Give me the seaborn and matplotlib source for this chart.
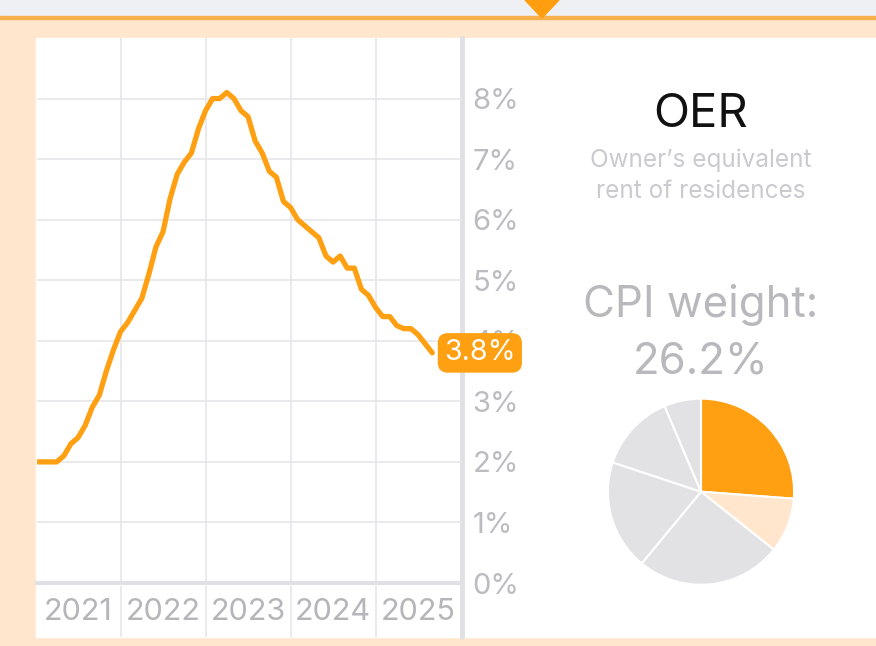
import numpy as np
import pandas as pd
import matplotlib
matplotlib.use("Agg")
import matplotlib.pyplot as plt
from matplotlib.patches import Rectangle, Polygon
from matplotlib.lines import Line2D
import seaborn as sns

# OER, 12-month % change, monthly from Jan 2021 to Sep 2025
oer_2021 = [2.0, 2.0, 2.0, 2.0, 2.1, 2.3, 2.4, 2.6, 2.9, 3.1, 3.5, 3.85]
oer_2022 = [4.15, 4.3, 4.5, 4.7, 5.1, 5.55, 5.8, 6.35, 6.75, 6.95, 7.1, 7.5]
oer_2023 = [7.8, 8.0, 8.0, 8.1, 8.0, 7.8, 7.7, 7.3, 7.1, 6.8, 6.7, 6.3]
oer_2024 = [6.2, 6.0, 5.9, 5.8, 5.7, 5.4, 5.3, 5.4, 5.2, 5.2, 4.85, 4.75]
oer_2025 = [4.55, 4.4, 4.4, 4.25, 4.2, 4.2, 4.1, 3.95, 3.8]
years = ["2021", "2022", "2023", "2024", "2025"]
ytick_vals = [0, 1, 2, 3, 4, 5, 6, 7, 8]
ytick_labels = [f"{v}%" for v in ytick_vals]

# CPI weights (OER first, then the other slices clockwise)
pie_shares = [26.2, 9.5, 25.3, 19.1, 13.5, 6.4]
latest_label = "3.8%"
title = "OER"
subtitle = ["Owner\u2019s equivalent", "rent of residences"]
weight_text = ["CPI weight:", "26.2%"]

oer = oer_2021 + oer_2022 + oer_2023 + oer_2024 + oer_2025
df = pd.DataFrame({"month": np.arange(len(oer)), "oer": oer})

ORANGE = "#FFA013"
PEACH = "#FFE6CC"
GRID = "#E6E6E9"
AXIS_GRAY = "#E1E1E5"
TICK_GRAY = "#BBBBC0"

sns.set_theme(style="white")
plt.rcParams["font.family"] = ["Inter", "DejaVu Sans"]

W, H = 876, 646
fig = plt.figure(figsize=(W / 100, H / 100), dpi=100, facecolor=PEACH)


def fx(px):
    return px / W


def fy(py):
    return 1 - py / H


# background pieces (behind the axes)
fig.patches.append(Rectangle((0, fy(16)), 1, 16 / H, transform=fig.transFigure,
                             color="#EFF0F4", zorder=-2))
fig.patches.append(Rectangle((0, fy(18.5)), 1, 2.5 / H, transform=fig.transFigure,
                             color="#F6B14D", zorder=-2))
fig.patches.append(Polygon([(fx(525), fy(0)), (fx(559), fy(0)), (fx(542), fy(18))],
                           closed=True, transform=fig.transFigure, color="#FF9F10",
                           zorder=-1))
fig.patches.append(Rectangle((fx(36), fy(637)), 1, (637 - 38) / H,
                             transform=fig.transFigure, color="white", zorder=-2))
# vertical separator, also behind the axes so the value tag covers it
fig.lines.append(Line2D([fx(462), fx(462)], [fy(38), fy(637)],
                        transform=fig.transFigure, color=AXIS_GRAY, lw=3.6,
                        zorder=-1))

# main line chart
ax = fig.add_axes([fx(37), fy(583), (462 - 37) / W, (583 - 38) / H])
ax.set_facecolor("none")
sns.lineplot(data=df, x="month", y="oer", color=ORANGE, lw=3.8, ax=ax,
             solid_capstyle="round", solid_joinstyle="round")
ax.set_xlim(0.21, 60.2)
ax.set_ylim(0, 9)
ax.set_xlabel("")
ax.set_ylabel("")
ax.set_xticks([12, 24, 36, 48])
ax.set_xticklabels([])
ax.set_yticks(ytick_vals)
ax.yaxis.tick_right()
ax.set_yticklabels(ytick_labels, fontsize=21, color=TICK_GRAY)
ax.tick_params(axis="both", length=0)
ax.tick_params(axis="y", pad=7.5)
ax.grid(True, color=GRID, lw=1.2)
for s in ["top", "left", "right"]:
    ax.spines[s].set_visible(False)
ax.spines["bottom"].set_color(AXIS_GRAY)
ax.spines["bottom"].set_linewidth(3.0)

ax.annotate(latest_label, xy=(df["month"].iloc[-1], df["oer"].iloc[-1]),
            xytext=(8.5, 0), textcoords="offset points", ha="left", va="center",
            fontsize=20.5, color="white", zorder=10, annotation_clip=False,
            bbox=dict(boxstyle="round,pad=0.22,rounding_size=0.35",
                      fc=ORANGE, ec="none"))

# year strip below the chart
ax2 = fig.add_axes([fx(37), fy(637), (462 - 37) / W, (637 - 586) / H])
ax2.set_facecolor("none")
ax2.set_xlim(ax.get_xlim())
ax2.set_ylim(0, 1)
ax2.axis("off")
for xv in [12, 24, 36, 48]:
    ax2.axvline(xv, color=GRID, lw=1.2)
for i, yr in enumerate(years):
    ax2.text(6 + 12 * i, 0.5, yr, ha="center", va="center", fontsize=22,
             color="#B5B5BA")

# right panel text
cx = fx(701)
fig.text(cx, fy(127), title, ha="center", va="baseline", fontsize=34,
         color="#111111")
fig.text(cx, fy(166.5), subtitle[0], ha="center", va="baseline", fontsize=17.5,
         color="#CACACF")
fig.text(cx, fy(198), subtitle[1], ha="center", va="baseline", fontsize=17.5,
         color="#CACACF")
fig.text(cx, fy(316.5), weight_text[0], ha="center", va="baseline", fontsize=31.5,
         color="#B8B8BD")
fig.text(cx, fy(373), weight_text[1], ha="center", va="baseline", fontsize=31.5,
         color="#B8B8BD")

# pie of CPI weights
r = 94
axp = fig.add_axes([fx(701 - r), fy(491.7 + r), 2 * r / W, 2 * r / H])
pie_colors = [ORANGE, PEACH] + ["#E2E2E5"] * 4
axp.pie(pie_shares, colors=pie_colors, startangle=90, counterclock=False,
        radius=1, wedgeprops=dict(edgecolor="white", linewidth=1.5))
axp.set_xlim(-1.01, 1.01)
axp.set_ylim(-1.01, 1.01)

fig.savefig("out.png", dpi=100, facecolor=fig.get_facecolor())
